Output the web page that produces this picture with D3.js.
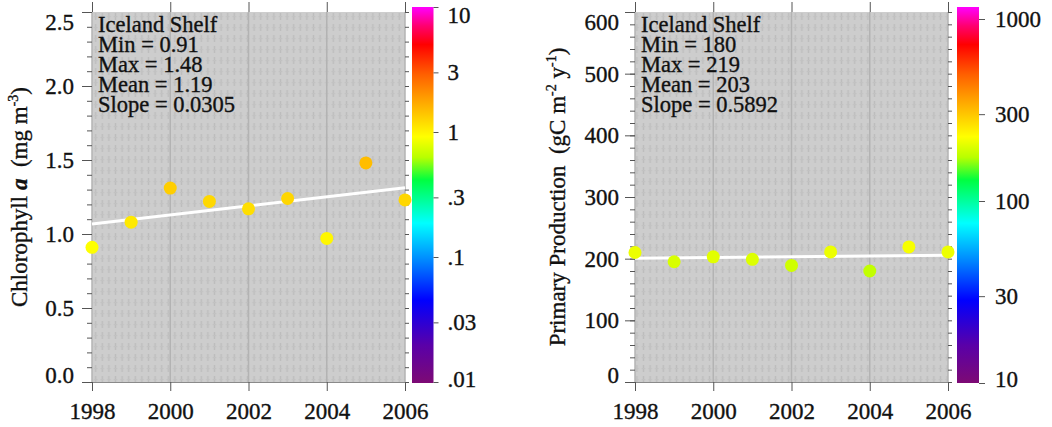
<!DOCTYPE html>
<html>
<head>
<meta charset="utf-8">
<script src="https://cdn.jsdelivr.net/npm/d3@7"></script>
<style>
body { margin: 0; background: #fff; }
svg { display: block; font-family: "Liberation Serif", "Times New Roman", serif; }
</style>
</head>
<body>
<svg id="chart" width="1052" height="427"></svg>
<script>
// values
const years = [1998, 1999, 2000, 2001, 2002, 2003, 2004, 2005, 2006];
const chlValues = [0.91, 1.08, 1.31, 1.22, 1.17, 1.24, 0.97, 1.48, 1.23];
const ppValues = [210, 195, 203, 199, 189, 211, 180, 219, 211];

const chlInfo = ["Iceland Shelf", "Min = 0.91", "Max = 1.48", "Mean = 1.19", "Slope = 0.0305"];
const ppInfo = ["Iceland Shelf", "Min = 180", "Max = 219", "Mean = 203", "Slope = 0.5892"];

// mean, slope per year
const chlTrend = [1.19, 0.0305];
const ppTrend = [203, 0.5892];

const yearTicks = [1998, 2000, 2002, 2004, 2006];
const chlTicks = [0, 0.5, 1, 1.5, 2, 2.5];
const ppTicks = [0, 100, 200, 300, 400, 500, 600];

const chlBarTicks = [0.01, 0.03, 0.1, 0.3, 1, 3, 10];
const chlBarLabels = [".01", ".03", ".1", ".3", "1", "3", "10"];
const ppBarTicks = [10, 30, 100, 300, 1000];
const ppBarLabels = ["10", "30", "100", "300", "1000"];

// rainbow palette, bottom (0) to top (1)
const rainbowStops = [0, 0.1, 0.22, 0.32, 0.425, 0.54, 0.6, 0.655, 0.75, 0.82, 0.9, 0.95, 1];
const rainbowColors = ["#7d0a74", "#5a00a8", "#0000ff", "#0080ff", "#00ffff", "#00ff40",
                       "#b8ff00", "#ffff00", "#ffa500", "#ff6000", "#ff0000", "#ff0070", "#ff00ff"];

const svg = d3.select("#chart");
const defs = svg.append("defs");

const grad = defs.append("linearGradient")
    .attr("id", "rainbow")
    .attr("x1", 0).attr("y1", 1).attr("x2", 0).attr("y2", 0);
rainbowStops.forEach((s, i) => {
    grad.append("stop").attr("offset", s).attr("stop-color", rainbowColors[i]);
});
const rainbow = d3.scaleLinear().domain(rainbowStops).range(rainbowColors).clamp(true);

// faint texture over the grey plot area
const pat = defs.append("pattern")
    .attr("id", "texture")
    .attr("patternUnits", "userSpaceOnUse")
    .attr("width", 6.6).attr("height", 11);
pat.append("rect").attr("x", 2.6).attr("y", 2).attr("width", 1.4).attr("height", 7).attr("fill", "#bdbdbd");
pat.append("rect").attr("x", 1.4).attr("y", 5).attr("width", 3.8).attr("height", 1.2).attr("fill", "#c2c2c2");

const plotTop = 12, plotBottom = 382;
const barTop = 7, barBottom = 383;

function styleAxis(sel) {
    sel.attr("font-family", null).attr("font-size", 23);
    sel.selectAll("line").attr("stroke", "#555");
    sel.selectAll("text").attr("fill", "#111").attr("stroke", "#111").attr("stroke-width", 0.35);
}

function drawPanel(p) {
    const g = svg.append("g");
    const x = d3.scaleLinear().domain([years[0], years[years.length - 1]]).range([p.left, p.right]);
    const y = d3.scaleLinear().domain([0, p.yMax]).range([plotBottom, plotTop]);
    const cb = d3.scaleLog().domain(p.cbDomain).range(p.cbRange);
    const colorOf = v => rainbow((barBottom - cb(v)) / (barBottom - barTop));

    g.append("rect")
        .attr("x", p.left).attr("y", plotTop)
        .attr("width", p.right - p.left).attr("height", plotBottom - plotTop)
        .attr("fill", "#cdcdcd");
    g.append("rect")
        .attr("x", p.left).attr("y", plotTop)
        .attr("width", p.right - p.left).attr("height", plotBottom - plotTop)
        .attr("fill", "url(#texture)");

    g.selectAll(".vgrid").data(yearTicks).join("line")
        .attr("x1", d => x(d)).attr("x2", d => x(d))
        .attr("y1", plotTop).attr("y2", plotBottom)
        .attr("stroke", "#b3b3b3").attr("stroke-width", 1.5);

    // ticks on top
    g.append("g").attr("transform", `translate(0,${plotTop})`)
        .call(d3.axisTop(x).tickValues(yearTicks).tickSize(10).tickFormat(""))
        .call(s => s.select(".domain").remove())
        .call(styleAxis);

    // bottom axis
    g.append("g").attr("transform", `translate(0,${plotBottom})`)
        .call(d3.axisBottom(x).tickValues(yearTicks).tickSize(9).tickSizeOuter(0)
            .tickPadding(12).tickFormat(d3.format("d")))
        .call(styleAxis)
        .call(s => s.select(".domain").attr("stroke", "#8a8a8a"));

    const minor = d3.range(0, Math.round(p.yMax / p.minorStep) + 1).map(i => i * p.minorStep);

    g.append("g").attr("transform", `translate(${p.left},0)`)
        .call(d3.axisLeft(y).tickValues(minor).tickSize(5).tickFormat(""))
        .call(s => s.select(".domain").remove())
        .call(styleAxis);

    g.append("g").attr("transform", `translate(${p.left},0)`)
        .call(d3.axisLeft(y).tickValues(p.yTicks).tickSize(10).tickPadding(p.pad).tickFormat(p.fmt))
        .call(s => s.select(".domain").remove())
        .call(styleAxis)
        .call(s => s.selectAll("text")
            .attr("y", d => Math.max(22, Math.min(375, y(d))) - y(d)));

    g.append("g").attr("transform", `translate(${p.right},0)`)
        .call(d3.axisRight(y).tickValues(minor).tickSize(4).tickFormat(""))
        .call(s => s.select(".domain").remove())
        .call(styleAxis);

    // trend line
    const xMid = d3.mean(years);
    const trendAt = yr => p.trend[0] + p.trend[1] * (yr - xMid);
    g.append("line")
        .attr("x1", x(years[0])).attr("y1", y(trendAt(years[0])))
        .attr("x2", x(years[years.length - 1])).attr("y2", y(trendAt(years[years.length - 1])))
        .attr("stroke", "#fff").attr("stroke-width", 3);

    g.selectAll(".pt").data(p.values).join("circle")
        .attr("cx", (d, i) => x(years[i]))
        .attr("cy", d => y(d))
        .attr("r", 6.5)
        .attr("fill", d => colorOf(d));

    // stats text
    g.append("text")
        .attr("font-size", 22.5).attr("fill", "#111")
        .attr("stroke", "#111").attr("stroke-width", 0.35)
        .selectAll("tspan").data(p.info).join("tspan")
        .attr("x", p.left + 6)
        .attr("y", (d, i) => 32 + i * 20)
        .text(d => d);

    // colour bar
    g.append("rect")
        .attr("x", p.cbX).attr("y", barTop)
        .attr("width", p.cbW).attr("height", barBottom - barTop)
        .attr("fill", "url(#rainbow)");
    g.append("g").attr("transform", `translate(${p.cbX + p.cbW},0)`)
        .call(d3.axisRight(cb).tickValues(p.cbTicks).tickSize(p.cbTick).tickPadding(p.cbPad)
            .tickFormat((d, i) => p.cbLabels[i]))
        .call(s => s.select(".domain").remove())
        .call(styleAxis)
        .call(s => s.selectAll("text")
            .attr("y", d => Math.max(15, Math.min(379, cb(d))) - cb(d)));

    // y title
    const t = g.append("text")
        .attr("transform", `translate(${p.titleX},197) rotate(-90)`)
        .attr("text-anchor", "middle")
        .attr("font-size", 23).attr("fill", "#111")
        .attr("stroke", "#111").attr("stroke-width", 0.35);
    p.title(t);
}

drawPanel({
    left: 92, right: 405, yMax: 2.5, minorStep: 0.1,
    yTicks: chlTicks, fmt: d3.format(".1f"), pad: 8,
    values: chlValues, trend: chlTrend, info: chlInfo,
    cbDomain: [0.01, 10], cbRange: [382, 7],
    cbX: 412, cbW: 21.5, cbTick: 5, cbPad: 9,
    cbTicks: chlBarTicks, cbLabels: chlBarLabels,
    titleX: 27,
    title: t => {
        t.append("tspan").text("Chlorophyll ");
        t.append("tspan").attr("font-style", "italic").attr("font-weight", "bold").text("a");
        t.append("tspan").text("\u00a0\u00a0(mg m");
        t.append("tspan").attr("font-size", 14).attr("dy", -9).text("-3");
        t.append("tspan").attr("dy", 9).text(")");
    }
});

drawPanel({
    left: 635, right: 948, yMax: 600, minorStep: 20,
    yTicks: ppTicks, fmt: d3.format("d"), pad: 6,
    values: ppValues, trend: ppTrend, info: ppInfo,
    cbDomain: [10, 1000], cbRange: [383, 19],
    cbX: 957, cbW: 22, cbTick: 6, cbPad: 10,
    cbTicks: ppBarTicks, cbLabels: ppBarLabels,
    titleX: 565,
    title: t => {
        t.append("tspan").text("Primary Production\u00a0\u00a0(gC m");
        t.append("tspan").attr("font-size", 14).attr("dy", -9).text("-2");
        t.append("tspan").attr("dy", 9).text(" y");
        t.append("tspan").attr("font-size", 14).attr("dy", -9).text("-1");
        t.append("tspan").attr("dy", 9).text(")");
    }
});
</script>
</body>
</html>
